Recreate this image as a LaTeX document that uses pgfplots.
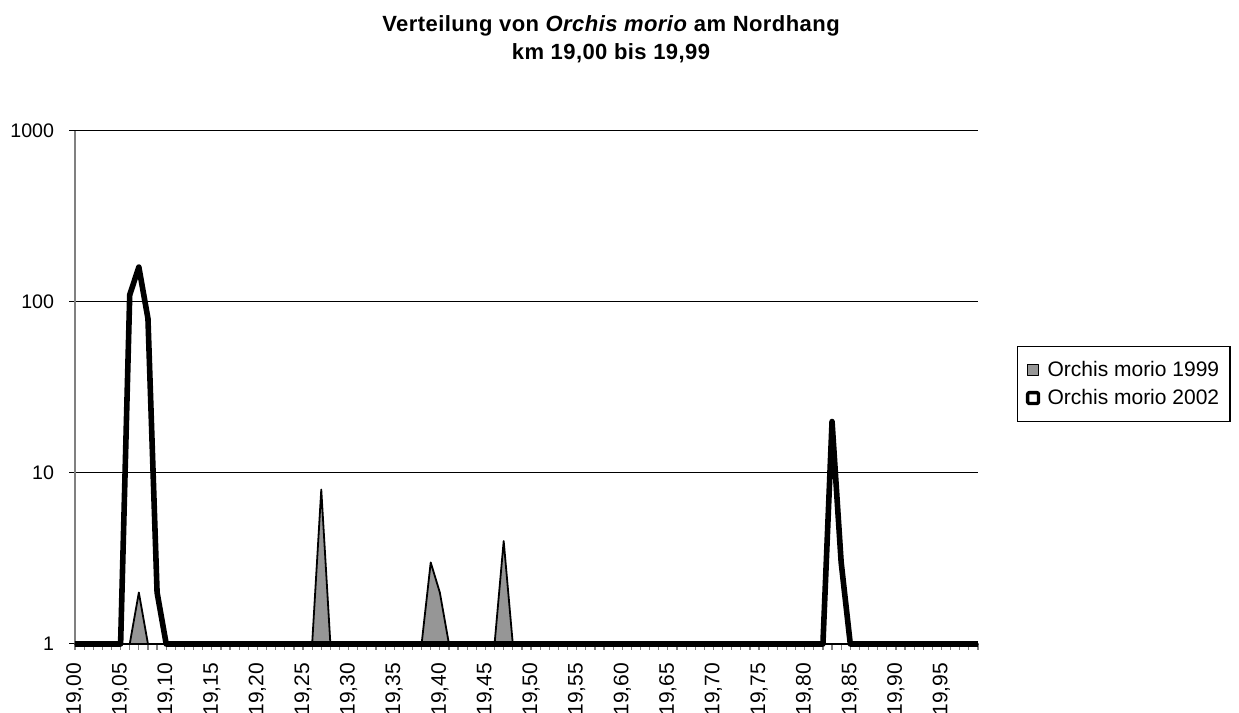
\documentclass[border=0pt]{standalone}
\usepackage{fontspec}
\setmainfont{Liberation Sans}
\usepackage{pgfplots}
\pgfplotsset{compat=1.18}
\usepackage{pgfplotstable}
\definecolor{grey99}{HTML}{969696}
\definecolor{axgrey}{HTML}{808080}

\pgfplotstableread{
x a b
0 1 1
1 1 1
2 1 1
3 1 1
4 1 1
5 1 1
6 1 110
7 2 160
8 1 80
9 1 2
10 1 1
11 1 1
12 1 1
13 1 1
14 1 1
15 1 1
16 1 1
17 1 1
18 1 1
19 1 1
20 1 1
21 1 1
22 1 1
23 1 1
24 1 1
25 1 1
26 1 1
27 8 1
28 1 1
29 1 1
30 1 1
31 1 1
32 1 1
33 1 1
34 1 1
35 1 1
36 1 1
37 1 1
38 1 1
39 3 1
40 2 1
41 1 1
42 1 1
43 1 1
44 1 1
45 1 1
46 1 1
47 4 1
48 1 1
49 1 1
50 1 1
51 1 1
52 1 1
53 1 1
54 1 1
55 1 1
56 1 1
57 1 1
58 1 1
59 1 1
60 1 1
61 1 1
62 1 1
63 1 1
64 1 1
65 1 1
66 1 1
67 1 1
68 1 1
69 1 1
70 1 1
71 1 1
72 1 1
73 1 1
74 1 1
75 1 1
76 1 1
77 1 1
78 1 1
79 1 1
80 1 1
81 1 1
82 1 1
83 1 20
84 1 3
85 1 1
86 1 1
87 1 1
88 1 1
89 1 1
90 1 1
91 1 1
92 1 1
93 1 1
94 1 1
95 1 1
96 1 1
97 1 1
98 1 1
99 1 1
}\data

\begin{document}
\begin{tikzpicture}
\useasboundingbox (-37.5pt,-34.5pt) rectangle (582pt,322pt);
\begin{axis}[
  at={(0,0)}, anchor=south west,
  scale only axis, width=451.5pt, height=256.5pt,
  ymode=log, ymin=1, ymax=1000, xmin=0, xmax=99,
  clip=false,
  axis x line=bottom, axis y line=left,
  axis line style={-},
  x axis line style={black, line width=1pt},
  y axis line style={axgrey, line width=0.8pt},
  tick align=outside,
  xtick={0,5,...,95},
  xticklabels={{19,00},{19,05},{19,10},{19,15},{19,20},{19,25},{19,30},{19,35},{19,40},{19,45},{19,50},{19,55},{19,60},{19,65},{19,70},{19,75},{19,80},{19,85},{19,90},{19,95}},
  minor xtick={0,...,99},
  ytick={1,10,100,1000},
  yticklabels={1,10,100,1000},
  yminorticks=false,
  major x tick style={axgrey, line width=0.6pt},
  minor x tick style={axgrey, line width=0.6pt},
  major tick length=2.8pt,
  minor tick length=2.8pt,
  y tick style={black, line width=0.5pt},
  ymajorgrids,
  y grid style={black, line width=0.5pt},
  xticklabel shift=6.5pt,
  xticklabel style={font=\fontsize{10.5}{12}\selectfont, rotate=90, anchor=east, inner sep=0pt},
  yticklabel style={font=\fontsize{9.8}{11}\selectfont, anchor=east, inner sep=0pt, xshift=-7.5pt},
  legend style={at={(1.0432,0.581)}, anchor=north west, draw=black, line width=0.6pt,
    font=\fontsize{10.5}{12}\selectfont, inner xsep=4.2pt, inner ysep=6pt, row sep=2.5pt,
    column sep=2.5pt,
    nodes={inner sep=1.2pt}, cells={anchor=west}},
]
\addplot[draw=black, line width=0.9pt, fill=grey99, line join=round, sharp plot,
  legend image code/.code={\draw[black, line width=0.7pt, fill=grey99] (0pt,-2.7pt) rectangle (5.4pt,2.7pt);}]
  table[x=x, y=a] {\data} \closedcycle;
\addlegendentry{Orchis morio 1999}
\addplot[draw=black, line width=2.8pt, fill=none, line join=round, sharp plot,
  legend image code/.code={\draw[black, line width=1.7pt, fill=white, rounded corners=0.6pt] (0pt,-2.7pt) rectangle (5.4pt,2.7pt);}]
  table[x=x, y=b] {\data};
\addlegendentry{Orchis morio 2002}
\end{axis}
\node[anchor=base, font=\fontsize{11}{13}\selectfont\bfseries\addfontfeature{LetterSpace=2}] at (268pt,306pt) {Verteilung von \textit{Orchis morio} am Nordhang};
\node[anchor=base, font=\fontsize{11}{13}\selectfont\bfseries\addfontfeature{LetterSpace=2}] at (268pt,292pt) {km 19,00 bis 19,99};
\end{tikzpicture}
\end{document}
